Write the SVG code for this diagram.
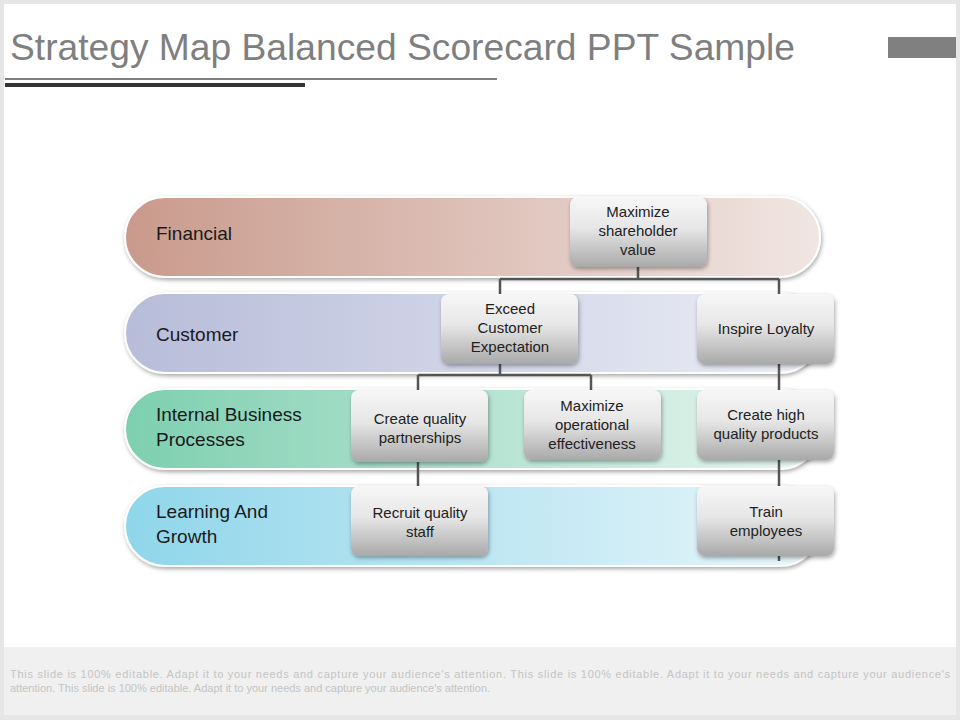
<svg xmlns="http://www.w3.org/2000/svg" width="960" height="720" viewBox="0 0 960 720">
<defs>
<linearGradient id="gF" x1="0" x2="1"><stop offset="0" stop-color="#c99a8c"/><stop offset="1" stop-color="#f1e6e3"/></linearGradient>
<linearGradient id="gC" x1="0" x2="1"><stop offset="0" stop-color="#b7bcd9"/><stop offset="1" stop-color="#eceef6"/></linearGradient>
<linearGradient id="gI" x1="0" x2="1"><stop offset="0" stop-color="#7dcfb0"/><stop offset="1" stop-color="#eaf6f1"/></linearGradient>
<linearGradient id="gL" x1="0" x2="1"><stop offset="0" stop-color="#8fd6ea"/><stop offset="1" stop-color="#e9f6fa"/></linearGradient>
<linearGradient id="gN" x1="0" y1="0" x2="0" y2="1"><stop offset="0" stop-color="#f7f7f7"/><stop offset="0.45" stop-color="#e6e6e6"/><stop offset="1" stop-color="#a9a9a9"/></linearGradient>
<filter id="sh" x="-10%" y="-10%" width="130%" height="140%"><feDropShadow dx="1" dy="2" stdDeviation="2" flood-opacity="0.35"/></filter>
</defs>
<style>
.band{stroke:#ffffff;stroke-width:2;filter:url(#sh)}
.bl{font-family:"Liberation Sans",Arial,sans-serif;font-size:19px;fill:#1a1a1a}
.node rect{fill:url(#gN);filter:url(#sh)}
.node text{font-family:"Liberation Sans",Arial,sans-serif;font-size:15px;fill:#222;text-anchor:middle}
.cn{stroke:#555;stroke-width:2.5;fill:none}
</style>
<rect x="0" y="0" width="960" height="720" fill="#e6e6e6"/>
<rect x="4" y="4" width="952" height="643" fill="#ffffff"/>
<rect x="4" y="647" width="952" height="68" fill="#f0f0f0"/>
<text x="10" y="60" font-family="Liberation Sans,Arial,sans-serif" font-size="37" fill="#7f7f7f" textLength="785" lengthAdjust="spacingAndGlyphs">Strategy Map Balanced Scorecard PPT Sample</text>
<line x1="5" y1="79" x2="497" y2="79" stroke="#555" stroke-width="1.5"/>
<line x1="5" y1="85" x2="305" y2="85" stroke="#333" stroke-width="4"/>
<rect x="888" y="37" width="68" height="21" fill="#808080"/>
<text font-family="Liberation Sans,Arial,sans-serif" font-size="11" fill="#c4c4c4"><tspan x="10" y="678" textLength="940" lengthAdjust="spacing">This slide is 100% editable. Adapt it to your needs and capture your audience's attention. This slide is 100% editable. Adapt it to your needs and capture your audience's</tspan><tspan x="10" y="692">attention. This slide is 100% editable. Adapt it to your needs and capture your audience's attention.</tspan></text>

<g id="band-financial"><rect class="band" x="125" y="197" width="695" height="80" rx="40" fill="url(#gF)"/><text class="bl" x="156" y="240">Financial</text></g>
<g id="band-customer"><rect class="band" x="125" y="293" width="695" height="80" rx="40" fill="url(#gC)"/><text class="bl" x="156" y="341">Customer</text></g>
<g id="band-internal"><rect class="band" x="125" y="389" width="695" height="80" rx="40" fill="url(#gI)"/><text class="bl" x="156" y="421">Internal Business</text><text class="bl" x="156" y="446">Processes</text></g>
<g id="band-learning"><rect class="band" x="125" y="486" width="695" height="80" rx="40" fill="url(#gL)"/><text class="bl" x="156" y="518">Learning And</text><text class="bl" x="156" y="543">Growth</text></g>

<g id="connectors">
<path class="cn" d="M638 267V279M500 279H779M500 279V294M779 279V294"/>
<path class="cn" d="M500 364V375M418 375H591M418 375V390M591 375V390"/>
<path class="cn" d="M779 364V390M779 460V486M779 556V561M418 462V486"/>
</g>

<g id="n1" class="node"><rect x="570" y="197" width="137" height="70" rx="8"/><text x="638" y="217">Maximize</text><text x="638" y="236">shareholder</text><text x="638" y="255">value</text></g>
<g id="n2" class="node"><rect x="441" y="294" width="137" height="70" rx="8"/><text x="510" y="314">Exceed</text><text x="510" y="333">Customer</text><text x="510" y="352">Expectation</text></g>
<g id="n3" class="node"><rect x="697" y="294" width="137" height="70" rx="8"/><text x="766" y="334">Inspire Loyalty</text></g>
<g id="n4" class="node"><rect x="351" y="390" width="137" height="72" rx="8"/><text x="420" y="424">Create quality</text><text x="420" y="443">partnerships</text></g>
<g id="n5" class="node"><rect x="524" y="390" width="137" height="70" rx="8"/><text x="592" y="411">Maximize</text><text x="592" y="430">operational</text><text x="592" y="449">effectiveness</text></g>
<g id="n6" class="node"><rect x="697" y="390" width="137" height="70" rx="8"/><text x="766" y="420">Create high</text><text x="766" y="439">quality products</text></g>
<g id="n7" class="node"><rect x="351" y="486" width="137" height="70" rx="8"/><text x="420" y="518">Recruit quality</text><text x="420" y="537">staff</text></g>
<g id="n8" class="node"><rect x="697" y="486" width="137" height="70" rx="8"/><text x="766" y="517">Train</text><text x="766" y="536">employees</text></g>
</svg>
